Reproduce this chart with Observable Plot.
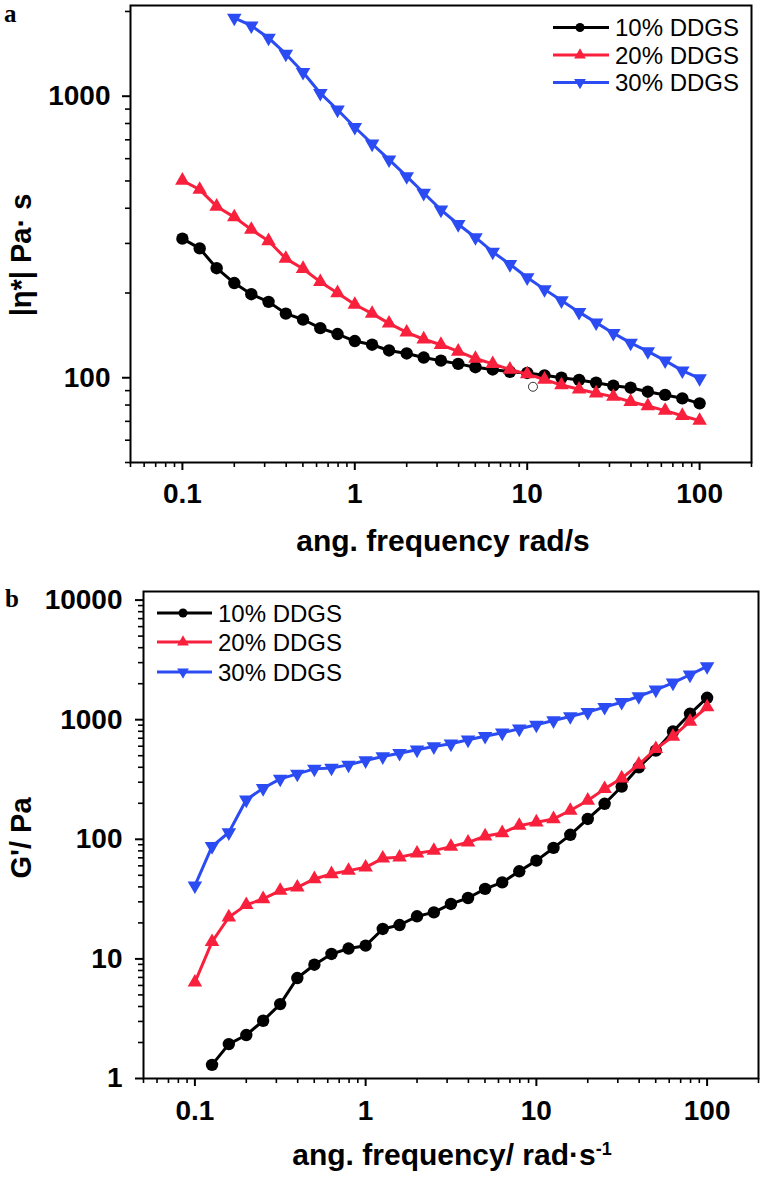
<!DOCTYPE html>
<html><head><meta charset="utf-8">
<script src="https://cdn.jsdelivr.net/npm/d3@7"></script>
<script src="https://cdn.jsdelivr.net/npm/@observablehq/plot@0.6"></script>
<style>
body{margin:0;background:#fff;}
#fig{position:relative;width:762px;height:1184px;overflow:hidden;background:#fff;font-family:"Liberation Sans",Arial,sans-serif;color:#000;}
.abs{position:absolute;white-space:nowrap;}
.title{font-weight:bold;font-size:30px;transform:translate(-50%,-50%);}
.ytitle{font-weight:bold;font-size:29px;transform:translate(-50%,-50%) rotate(-90deg);}
</style></head><body><div id="fig"></div>
<script>
// ---- data ----
const freq = [0.1, 0.126, 0.158, 0.2, 0.251, 0.316, 0.398, 0.501, 0.631, 0.794,
              1, 1.26, 1.58, 2, 2.51, 3.16, 3.98, 5.01, 6.31, 7.94,
              10, 12.6, 15.8, 20, 25.1, 31.6, 39.8, 50.1, 63.1, 79.4, 100];
const seriesNames = ["10% DDGS", "20% DDGS", "30% DDGS"];

// panel a: complex viscosity |eta*| (Pa·s)
const etaBlack = [312, 288, 245, 217, 198, 186, 169, 161, 150, 143,
                  135, 131, 125, 122, 118, 115, 112, 109, 107, 105,
                  104, 102, 100, 98.2, 96.0, 93.7, 92.2, 89.2, 86.9, 84.5, 81.1];
const etaRed = [502, 466, 406, 372, 336, 306, 265, 244, 219, 200,
                182, 169, 156, 145, 137, 131, 124, 117, 112, 107,
                103, 98.6, 94.2, 91.0, 88.1, 85.7, 82.2, 79.4, 76.4, 73.3, 70.4];
const etaBlueStart = 3; // blue series starts at 0.2 rad/s
const etaBlue = [1897, 1781, 1611, 1413, 1217, 1025, 895, 776, 678, 595,
                 519, 453, 395, 351, 315, 280, 253, 227, 206, 188,
                 171, 157, 144, 133, 124, 115, 106, 99.5];
const strayFreq = [10.8];
const strayEta = [92.9];

// panel b: storage modulus G' (Pa)
const gBlackStart = 1; // black series starts at 0.126 rad/s
const gBlack = [1.30, 1.94, 2.31, 3.04, 4.19, 6.92, 8.94, 11.0, 12.2, 12.9,
                17.8, 19.2, 22.7, 24.5, 28.8, 32.3, 38.5, 43.6, 54.0, 66.3,
                84.7, 109, 148, 198, 276, 400, 552, 796, 1120, 1525];
const gRed = [6.36, 13.9, 22.3, 28.3, 31.7, 37.2, 39.7, 46.6, 51.3, 54.7,
              58.3, 69.3, 70.7, 76.3, 80.4, 86.9, 94.4, 106, 113, 130,
              139, 148, 174, 211, 264, 324, 422, 571, 723, 966, 1273];
const gBlue = [41.0, 87.4, 114, 214, 267, 320, 352, 388, 395, 419,
               456, 492, 525, 560, 597, 629, 679, 728, 777, 839,
               906, 985, 1064, 1156, 1273, 1400, 1564, 1779, 2036, 2376, 2787];

// ticks
const xMajor = [0.1, 1, 10, 100];
const xMajorLabels = ["0.1", "1", "10", "100"];
const xMinor = [0.05, 0.06, 0.07, 0.08, 0.09, 0.2, 0.3, 0.4, 0.5, 0.6, 0.7, 0.8, 0.9,
                2, 3, 4, 5, 6, 7, 8, 9, 20, 30, 40, 50, 60, 70, 80, 90, 200];
const yMajorA = [100, 1000];
const yMajorALabels = ["100", "1000"];
const yMinorA = [50, 60, 70, 80, 90, 200, 300, 400, 500, 600, 700, 800, 900, 2000];
const yMajorB = [1, 10, 100, 1000, 10000];
const yMajorBLabels = ["1", "10", "100", "1000", "10000"];
const yMinorB = [2, 3, 4, 5, 6, 7, 8, 9, 20, 30, 40, 50, 60, 70, 80, 90,
                 200, 300, 400, 500, 600, 700, 800, 900, 2000, 3000, 4000, 5000, 6000, 7000, 8000, 9000];

// text
const xTitleA = "ang. frequency rad/s";
const yTitleA = "|η*| Pa· s";
const xTitleB = "ang. frequency/ rad·s";
const yTitleB = "G'/ Pa";
const panelLabels = ["a", "b"];

// style
const colors = ["#000000", "#f8203c", "#2b4cf2"];
const symbols = ["circle", "triangle", "triangle"];
const rotations = [0, 0, 180];
const sizes = [6.2, 5.4, 5.4];

function rows(ys, start) { return ys.map((v, i) => ({x: freq[i + start], y: v})); }

function seriesMarks(data, k) {
  return [
    Plot.line(data, {x: "x", y: "y", stroke: colors[k], strokeWidth: 3}),
    Plot.dot(data, {x: "x", y: "y", fill: colors[k], stroke: "none", symbol: symbols[k], r: sizes[k], rotate: rotations[k]})
  ];
}
const blank = () => "";

const fontStyle = {fontFamily: "'Liberation Sans', Arial, sans-serif", fontSize: "28px", fontWeight: "bold", color: "#000", background: "transparent", overflow: "visible"};

const plotA = Plot.plot({
  width: 762, height: 560,
  marginLeft: 130, marginRight: 11, marginTop: 5, marginBottom: 98,
  x: {type: "log", domain: [0.05, 200]},
  y: {type: "log", domain: [50, 2100]},
  style: fontStyle,
  marks: [
    Plot.axisX(xMinor, {tickSize: 5, strokeWidth: 1.6, tickFormat: blank, label: null}),
    Plot.axisX(xMajor, {tickSize: 8, tickPadding: 13, strokeWidth: 2, tickFormat: d => xMajorLabels[xMajor.indexOf(d)], label: null}),
    Plot.axisY(yMinorA, {tickSize: 5, strokeWidth: 1.6, tickFormat: blank, label: null}),
    Plot.axisY(yMajorA, {tickSize: 8, tickPadding: 12, strokeWidth: 2, tickFormat: d => yMajorALabels[yMajorA.indexOf(d)], label: null}),
    ...seriesMarks(rows(etaBlack, 0), 0),
    ...seriesMarks(rows(etaRed, 0), 1),
    ...seriesMarks(rows(etaBlue, etaBlueStart), 2),
    Plot.dot(strayFreq.map((f, i) => ({x: f, y: strayEta[i]})), {x: "x", y: "y", r: 4.5, fill: "white", stroke: "#333", strokeWidth: 1}),
    Plot.frame({stroke: "#000", strokeWidth: 2})
  ]
});

const plotB = Plot.plot({
  width: 762, height: 604,
  marginLeft: 143, marginRight: 4, marginTop: 11, marginBottom: 106,
  x: {type: "log", domain: [0.05, 200]},
  y: {type: "log", domain: [1, 11800]},
  style: fontStyle,
  marks: [
    Plot.axisX(xMinor, {tickSize: 5, strokeWidth: 1.6, tickFormat: blank, label: null}),
    Plot.axisX(xMajor, {tickSize: 8, tickPadding: 14, strokeWidth: 2, tickFormat: d => xMajorLabels[xMajor.indexOf(d)], label: null}),
    Plot.axisY(yMinorB, {tickSize: 5, strokeWidth: 1.6, tickFormat: blank, label: null}),
    Plot.axisY(yMajorB, {tickSize: 8, tickPadding: 13, strokeWidth: 2, tickFormat: d => yMajorBLabels[yMajorB.indexOf(d)], label: null}),
    ...seriesMarks(rows(gBlack, gBlackStart), 0),
    ...seriesMarks(rows(gRed, 0), 1),
    ...seriesMarks(rows(gBlue, 0), 2),
    Plot.frame({stroke: "#000", strokeWidth: 2})
  ]
});

const fig = document.getElementById("fig");
plotA.style.position = "absolute"; plotA.style.left = "0px"; plotA.style.top = "0px";
plotB.style.position = "absolute"; plotB.style.left = "0px"; plotB.style.top = "580px";
fig.appendChild(plotA);
fig.appendChild(plotB);

function addText(cls, txt, left, top, html) {
  const d = document.createElement("div");
  d.className = "abs " + cls;
  d.style.left = left + "px"; d.style.top = top + "px";
  if (html) d.innerHTML = txt; else d.textContent = txt;
  fig.appendChild(d);
  return d;
}
addText("title", xTitleA, 443, 541);
addText("ytitle", yTitleA, 21, 255);
addText("title", xTitleB + "<sup style='font-size:18px;vertical-align:0.55em'>-1</sup>", 452, 1155, true);
addText("ytitle", yTitleB, 21, 838);

// overlay svg: panel letters and legends
const ov = d3.select(fig).append("svg")
  .attr("width", 762).attr("height", 1184)
  .style("position", "absolute").style("left", "0px").style("top", "0px").style("pointer-events", "none");
[[4, 22], [5, 607]].forEach(([x, y], i) => {
  ov.append("text").attr("x", x).attr("y", y)
    .attr("font-family", "'Liberation Serif', 'Times New Roman', serif")
    .attr("font-weight", "bold").attr("font-size", 25).attr("fill", "#000")
    .text(panelLabels[i]);
});
function legend(x0, x1, xm, xt, ys) {
  seriesNames.forEach((name, k) => {
    const g = ov.append("g");
    g.append("line").attr("x1", x0).attr("x2", x1).attr("y1", ys[k]).attr("y2", ys[k])
      .attr("stroke", colors[k]).attr("stroke-width", 3);
    const sym = d3.symbol().type(k === 0 ? d3.symbolCircle : d3.symbolTriangle).size(k === 0 ? 64 : 60);
    g.append("path").attr("d", sym()).attr("fill", colors[k])
      .attr("transform", `translate(${xm},${ys[k]}) rotate(${rotations[k]})`);
    g.append("text").attr("x", xt).attr("y", ys[k]).attr("dy", "0.36em")
      .attr("font-family", "'Liberation Sans', Arial, sans-serif").attr("font-size", 24)
      .attr("fill", "#000").text(name);
  });
}
legend(553, 609, 580, 615, [27.5, 55, 82.5]);
legend(157, 212, 183, 218, [613, 642, 672]);
</script>
</body></html>
